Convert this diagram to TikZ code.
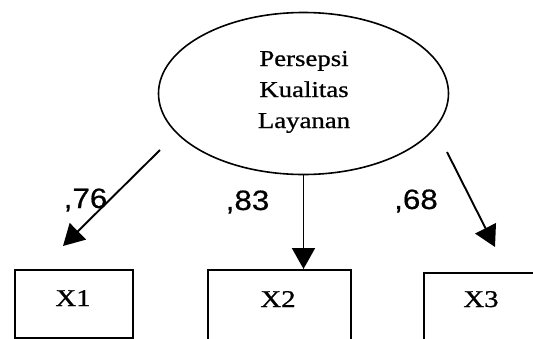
\documentclass[tikz,border=0pt]{standalone}
\usepackage{fontspec}
\setmainfont{Liberation Serif}
\newfontfamily\thickserif[FakeBold=0.7]{Liberation Serif}
\newfontfamily\lblfont[FakeBold=0.5]{Liberation Sans}
\usetikzlibrary{shapes.geometric,arrows.meta}
\begin{document}
\begin{tikzpicture}[x=1pt,y=-1pt,
  latent/.style={ellipse,draw,line width=1.6pt,minimum width=290pt,minimum height=162pt,inner sep=0pt},
  obsbox/.style={draw,line width=1.6pt,anchor=north west,inner sep=0pt},
  lattext/.style={anchor=base,inner sep=0pt,font=\thickserif\fontsize{22.7}{27}\selectfont},
  obstext/.style={anchor=base,inner sep=0pt,font=\thickserif\fontsize{24}{28}\selectfont},
  coef/.style={anchor=base,inner sep=0pt,font=\lblfont\fontsize{28}{32}\selectfont},
  arr/.style={line width=1.9pt,-{Triangle[length=21pt,width=23pt]}}
]
\useasboundingbox (0,0) rectangle (533,338);
\clip (0,0) rectangle (533,338);
% latent variable
\node[latent] (lat) at (303.5,93.5) {};
\node[lattext] (t1) at (304,66) {\scalebox{1.18}[1]{Persepsi}};
\node[lattext] (t2) at (304,97) {\scalebox{1.18}[1]{Kualitas}};
\node[lattext] (t3) at (304,128) {\scalebox{1.18}[1]{Layanan}};
% observed boxes
\node[obsbox,minimum width=118pt,minimum height=68pt] (b1) at (14,269) {};
\node[obsbox,minimum width=143pt,minimum height=80pt] (b2) at (207,269) {};
\node[obsbox,minimum width=140pt,minimum height=80pt] (b3) at (423,272) {};
\node[obstext] (x1) at (73,306) {\scalebox{1.2}[1]{X1}};
\node[obstext] (x2) at (278,307) {\scalebox{1.2}[1]{X2}};
\node[obstext] (x3) at (481,307) {\scalebox{1.2}[1]{X3}};
% arrows
\coordinate (a1s) at (160,150);
\coordinate (a1e) at (63,246);
\coordinate (a3s) at (447,152);
\coordinate (a3e) at (495,247);
\draw[arr] (a1s) -- (a1e);
\draw[arr] (lat.south) -- (lat.south |- b2.north);
\draw[arr] (a3s) -- (a3e);
% coefficients
\node[coef] (c1) at (85.5,208) {\scalebox{1.12}[1]{,76}};
\node[coef] (c2) at (247.5,210) {\scalebox{1.12}[1]{,83}};
\node[coef] (c3) at (416,209) {\scalebox{1.12}[1]{,68}};
\end{tikzpicture}
\end{document}
